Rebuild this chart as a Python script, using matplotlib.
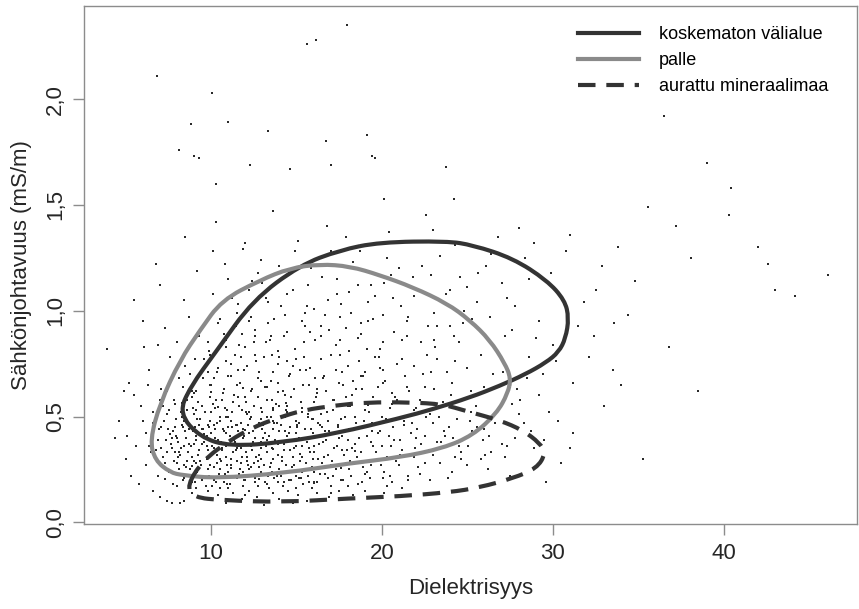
"""
Sähkönjohtavuus vs. dielektrisyys -hajontakuva kolmella maanmuokkausluokan
rajauskäyrällä (koskematon välialue, palle, aurattu mineraalimaa).
"""

import numpy as np
import matplotlib
matplotlib.use("Agg")
import matplotlib.pyplot as plt
from matplotlib.path import Path
from matplotlib.patches import PathPatch
from matplotlib.lines import Line2D
from matplotlib.ticker import FuncFormatter

plt.rcParams['font.family'] = ['Liberation Sans', 'DejaVu Sans']

# ── Mittauspisteet (dielektrisyys, sähkönjohtavuus mS/m) ─────────
pisteet_pohja = [
    (6.6, 0.15), (7.0, 0.12), (7.4, 0.10), (7.7, 0.09), (8.2, 0.09), (8.4, 0.10),
    (8.9, 0.14), (9.3, 0.12), (9.8, 0.15), (10.4, 0.13), (10.9, 0.09), (11.3, 0.14),
    (11.8, 0.11), (12.2, 0.15), (12.7, 0.12), (13.1, 0.08), (13.6, 0.14), (14.0, 0.11),
    (14.5, 0.15), (15.1, 0.13), (15.6, 0.10), (16.2, 0.14), (16.9, 0.12), (17.5, 0.15),
    (18.3, 0.13), (19.0, 0.15), (20.1, 0.14), (21.2, 0.16), (9.1, 0.16), (10.0, 0.11),
    (11.0, 0.16), (12.0, 0.13), (13.4, 0.16), (14.8, 0.09), (15.9, 0.16), (17.0, 0.14),
]

pisteet_ydin = [
    (6.9, 0.22), (7.3, 0.28), (7.8, 0.18), (8.1, 0.25), (8.4, 0.21), (8.6, 0.29),
    (8.9, 0.19), (9.2, 0.24), (9.4, 0.27), (9.7, 0.17), (9.9, 0.22), (10.2, 0.26),
    (10.3, 0.19), (10.6, 0.29), (10.8, 0.23), (11.1, 0.18), (11.2, 0.27), (11.5, 0.21),
    (11.7, 0.25), (11.9, 0.17), (12.1, 0.29), (12.3, 0.22), (12.6, 0.19), (12.8, 0.26),
    (13.0, 0.23), (13.3, 0.18), (13.5, 0.28), (13.7, 0.21), (14.0, 0.25), (14.2, 0.17),
    (14.4, 0.27), (14.7, 0.20), (14.9, 0.24), (15.2, 0.29), (15.4, 0.18), (15.7, 0.22),
    (15.9, 0.26), (16.2, 0.19), (16.5, 0.28), (16.7, 0.23), (17.0, 0.17), (17.3, 0.25),
    (17.6, 0.20), (17.9, 0.28), (18.2, 0.22), (18.6, 0.18), (18.9, 0.26), (19.3, 0.21),
    (19.7, 0.29), (20.1, 0.24), (20.6, 0.19), (21.0, 0.27), (21.5, 0.22), (22.1, 0.26),
    (22.8, 0.20), (23.4, 0.28), (24.1, 0.24), (25.0, 0.27), (26.2, 0.25), (27.5, 0.22),
    (9.0, 0.29), (10.0, 0.21), (11.0, 0.24), (12.0, 0.20), (13.1, 0.27), (14.1, 0.22),
    (15.0, 0.16), (16.0, 0.24), (17.1, 0.29), (18.0, 0.17), (19.0, 0.23), (20.3, 0.17),
    (8.0, 0.17), (10.5, 0.16), (12.5, 0.28), (13.9, 0.19),
    (5.6, 0.36), (6.2, 0.42), (6.5, 0.33), (6.9, 0.39), (7.2, 0.31), (7.5, 0.44),
    (7.7, 0.35), (8.0, 0.40), (8.2, 0.32), (8.5, 0.43), (8.7, 0.37), (8.9, 0.31),
    (9.1, 0.41), (9.3, 0.34), (9.5, 0.44), (9.6, 0.38), (9.8, 0.31), (10.0, 0.42),
    (10.2, 0.35), (10.4, 0.39), (10.5, 0.30), (10.7, 0.44), (10.9, 0.36), (11.1, 0.41),
    (11.3, 0.33), (11.4, 0.38), (11.6, 0.43), (11.8, 0.31), (12.0, 0.37), (12.2, 0.42),
    (12.4, 0.34), (12.6, 0.40), (12.8, 0.32), (13.0, 0.44), (13.2, 0.36), (13.4, 0.41),
    (13.6, 0.30), (13.8, 0.38), (14.0, 0.43), (14.3, 0.34), (14.5, 0.39), (14.8, 0.31),
    (15.0, 0.42), (15.3, 0.36), (15.5, 0.44), (15.8, 0.33), (16.0, 0.40), (16.3, 0.37),
    (16.6, 0.31), (16.9, 0.43), (17.2, 0.35), (17.5, 0.40), (17.8, 0.32), (18.1, 0.44),
    (18.4, 0.37), (18.8, 0.33), (19.1, 0.41), (19.5, 0.36), (19.9, 0.43), (20.3, 0.31),
    (20.7, 0.39), (21.2, 0.34), (21.7, 0.42), (22.3, 0.37), (23.0, 0.32), (23.7, 0.41),
    (24.5, 0.36), (25.3, 0.43), (26.4, 0.33), (27.8, 0.40), (28.9, 0.35), (9.0, 0.37),
    (10.1, 0.33), (11.0, 0.45), (12.1, 0.31), (13.3, 0.39), (14.6, 0.45), (15.6, 0.38),
    (16.5, 0.45), (18.0, 0.39), (20.0, 0.36), (8.4, 0.36), (9.9, 0.45), (11.9, 0.40),
    (12.9, 0.35), (10.6, 0.38), (7.9, 0.45),
    (4.6, 0.48), (5.9, 0.55), (6.6, 0.47), (7.0, 0.58), (7.4, 0.51), (7.9, 0.56),
    (8.3, 0.46), (8.6, 0.53), (8.9, 0.59), (9.2, 0.49), (9.5, 0.55), (9.8, 0.46),
    (10.0, 0.52), (10.3, 0.58), (10.5, 0.48), (10.8, 0.54), (11.0, 0.50), (11.3, 0.57),
    (11.5, 0.46), (11.8, 0.53), (12.0, 0.59), (12.3, 0.49), (12.5, 0.55), (12.8, 0.47),
    (13.0, 0.52), (13.3, 0.58), (13.5, 0.50), (13.8, 0.56), (14.1, 0.46), (14.4, 0.53),
    (14.7, 0.59), (15.0, 0.48), (15.3, 0.54), (15.7, 0.50), (16.0, 0.57), (16.4, 0.46),
    (16.8, 0.52), (17.2, 0.58), (17.6, 0.49), (18.0, 0.55), (18.5, 0.47), (19.0, 0.53),
    (19.5, 0.59), (20.0, 0.50), (20.6, 0.56), (21.3, 0.48), (22.0, 0.54), (22.8, 0.51),
    (23.6, 0.57), (24.4, 0.49), (25.5, 0.55), (26.7, 0.52), (28.3, 0.47), (10.1, 0.56),
    (12.1, 0.51), (14.0, 0.55), (9.0, 0.51), (11.6, 0.59), (13.7, 0.47), (15.9, 0.49),
    (17.9, 0.59), (19.3, 0.46),
]

# tiheän alueen lisämittaukset
pisteet_tiheä = [
    (8.35, 0.20), (9.05, 0.19), (9.65, 0.21), (10.15, 0.20), (10.75, 0.19), (11.35, 0.22),
    (11.95, 0.20), (12.55, 0.21), (13.15, 0.19), (13.85, 0.22), (14.55, 0.20), (15.25, 0.21),
    (16.05, 0.19), (16.85, 0.21), (17.75, 0.20), (18.85, 0.19), (20.05, 0.21), (21.55, 0.20),
    (7.55, 0.24), (8.15, 0.23), (8.75, 0.25), (9.35, 0.22), (9.85, 0.25), (10.45, 0.23),
    (11.05, 0.21), (11.65, 0.23), (12.25, 0.25), (12.95, 0.24), (13.55, 0.23), (14.25, 0.24),
    (14.95, 0.22), (15.65, 0.25), (16.35, 0.23), (17.15, 0.22), (18.05, 0.25), (19.15, 0.24),
    (20.45, 0.22), (22.25, 0.23), (23.85, 0.21),
    (7.15, 0.27), (7.85, 0.29), (8.45, 0.27), (9.15, 0.28), (9.75, 0.30), (10.35, 0.28),
    (10.95, 0.27), (11.55, 0.29), (12.15, 0.27), (12.75, 0.29), (13.45, 0.26), (14.15, 0.29),
    (14.85, 0.27), (15.55, 0.28), (16.25, 0.30), (17.05, 0.27), (18.15, 0.29), (19.35, 0.27),
    (20.85, 0.29), (22.55, 0.28), (24.65, 0.30),
    (6.75, 0.31), (7.45, 0.33), (8.05, 0.31), (8.65, 0.33), (9.25, 0.32), (9.85, 0.34),
    (10.35, 0.32), (10.85, 0.31), (11.45, 0.34), (12.05, 0.33), (12.65, 0.31), (13.25, 0.33),
    (13.95, 0.32), (14.65, 0.34), (15.35, 0.31), (16.05, 0.33), (16.85, 0.32), (17.65, 0.34),
    (18.55, 0.31), (19.65, 0.33), (21.05, 0.32), (22.75, 0.34), (24.25, 0.31), (26.05, 0.32),
    (6.35, 0.36), (7.05, 0.35), (7.65, 0.37), (8.25, 0.35), (8.85, 0.36), (9.45, 0.37),
    (10.05, 0.36), (10.65, 0.35), (11.15, 0.37), (11.75, 0.35), (12.35, 0.36), (12.95, 0.38),
    (13.55, 0.35), (14.25, 0.37), (14.95, 0.36), (15.75, 0.35), (16.55, 0.38), (17.35, 0.36),
    (18.25, 0.35), (19.35, 0.38), (20.55, 0.36), (21.95, 0.35), (23.45, 0.38), (25.05, 0.36),
    (27.05, 0.37),
    (6.55, 0.40), (7.35, 0.39), (7.95, 0.41), (8.55, 0.40), (9.15, 0.39), (9.75, 0.41),
    (10.25, 0.40), (10.85, 0.42), (11.35, 0.39), (11.95, 0.41), (12.55, 0.40), (13.15, 0.42),
    (13.75, 0.39), (14.45, 0.41), (15.15, 0.40), (15.95, 0.42), (16.75, 0.39), (17.65, 0.41),
    (18.65, 0.40), (19.75, 0.42), (21.05, 0.39), (22.55, 0.41), (24.15, 0.40), (26.25, 0.41),
    (6.95, 0.44), (7.75, 0.43), (8.35, 0.45), (8.95, 0.43), (9.55, 0.44), (10.15, 0.46),
    (10.75, 0.43), (11.25, 0.45), (11.85, 0.44), (12.45, 0.43), (13.05, 0.46), (13.65, 0.44),
    (14.35, 0.43), (15.05, 0.45), (15.85, 0.44), (16.65, 0.43), (17.45, 0.46), (18.35, 0.44),
    (19.45, 0.43), (20.65, 0.45), (22.05, 0.44), (23.65, 0.43), (25.55, 0.45),
    (7.25, 0.48), (7.95, 0.49), (8.65, 0.47), (9.35, 0.49), (9.95, 0.48), (10.55, 0.50),
    (11.15, 0.48), (11.75, 0.47), (12.35, 0.50), (12.95, 0.49), (13.65, 0.48), (14.35, 0.50),
    (15.15, 0.47), (15.95, 0.49), (16.85, 0.48), (17.85, 0.50), (18.95, 0.48), (20.25, 0.49),
    (21.75, 0.47), (23.35, 0.50), (25.15, 0.48),
    (7.55, 0.53), (8.25, 0.52), (8.95, 0.54), (9.65, 0.52), (10.25, 0.54), (10.95, 0.53),
    (11.65, 0.55), (12.25, 0.52), (12.95, 0.54), (13.65, 0.53), (14.45, 0.55), (15.35, 0.52),
    (16.25, 0.54), (17.15, 0.53), (18.15, 0.55), (19.25, 0.52), (20.45, 0.54), (21.85, 0.53),
    (23.35, 0.55),
    (7.85, 0.58), (8.55, 0.60), (9.25, 0.57), (9.95, 0.59), (10.65, 0.58), (11.35, 0.60),
    (12.05, 0.57), (12.75, 0.59), (13.55, 0.58), (14.35, 0.60), (15.25, 0.57), (16.15, 0.59),
    (17.15, 0.58), (18.25, 0.60), (19.45, 0.57), (20.75, 0.59), (22.25, 0.58), (24.05, 0.60),
    (8.15, 0.33), (8.45, 0.48), (8.75, 0.22), (9.05, 0.45), (9.35, 0.29), (9.65, 0.52),
    (9.95, 0.27), (10.25, 0.44), (10.55, 0.25), (10.85, 0.50), (11.15, 0.30), (11.45, 0.46),
    (11.75, 0.28), (12.05, 0.52), (12.35, 0.26), (12.65, 0.45), (12.95, 0.30), (13.25, 0.50),
    (13.55, 0.24), (13.85, 0.47), (14.15, 0.31), (14.45, 0.52), (14.75, 0.26), (15.05, 0.46),
    (15.35, 0.24), (15.65, 0.51), (15.95, 0.30), (16.25, 0.47), (8.05, 0.38), (8.55, 0.26),
    (9.15, 0.53), (9.45, 0.20), (9.75, 0.36), (10.05, 0.17), (10.35, 0.47), (10.65, 0.34),
    (10.95, 0.18), (11.25, 0.52), (11.55, 0.35), (11.85, 0.24), (12.15, 0.46), (12.45, 0.38),
    (12.75, 0.17), (13.05, 0.40), (13.35, 0.22), (13.65, 0.54), (13.95, 0.37), (14.25, 0.19),
    (14.55, 0.42), (14.85, 0.35), (15.15, 0.21), (15.45, 0.40), (15.75, 0.19), (16.05, 0.36),
    (16.45, 0.51), (16.95, 0.26), (17.45, 0.45), (17.95, 0.34), (18.45, 0.50), (18.95, 0.29),
    (19.45, 0.47), (19.95, 0.27), (8.90, 0.265), (9.60, 0.415), (10.40, 0.545), (11.20, 0.255),
    (12.00, 0.435), (12.80, 0.205), (13.60, 0.345), (14.40, 0.565), (15.20, 0.325),
    (16.00, 0.185), (16.80, 0.415), (17.60, 0.255), (18.40, 0.335), (19.20, 0.555),
    (7.60, 0.415), (7.30, 0.205), (8.30, 0.565), (10.00, 0.615), (11.90, 0.635), (13.90, 0.615),
    (6.2, 0.27), (6.6, 0.52), (7.1, 0.45), (7.4, 0.62), (7.7, 0.40), (8.0, 0.28),
    (8.3, 0.50), (8.7, 0.44), (6.8, 0.34), (7.2, 0.55), (7.9, 0.33), (8.6, 0.58),
    (9.3, 0.46), (9.0, 0.61), (6.0, 0.48), (5.5, 0.60), (5.1, 0.41), (6.3, 0.65),
    (7.8, 0.70), (6.9, 0.84),
]

pisteet_keski = [
    (5.2, 0.66), (6.4, 0.72), (7.1, 0.63), (7.6, 0.78), (8.1, 0.68), (8.5, 0.74),
    (8.9, 0.62), (9.3, 0.70), (9.6, 0.77), (10.0, 0.65), (10.4, 0.73), (10.7, 0.61),
    (11.0, 0.69), (11.4, 0.79), (11.7, 0.66), (12.1, 0.74), (12.4, 0.63), (12.8, 0.71),
    (13.1, 0.78), (13.5, 0.67), (13.9, 0.75), (14.2, 0.62), (14.6, 0.70), (15.0, 0.77),
    (15.4, 0.65), (15.8, 0.73), (16.2, 0.61), (16.6, 0.69), (17.0, 0.79), (17.5, 0.66),
    (18.0, 0.74), (18.5, 0.63), (19.0, 0.71), (19.6, 0.78), (20.2, 0.67), (20.9, 0.75),
    (21.6, 0.62), (22.4, 0.70), (23.2, 0.77), (24.1, 0.66), (25.0, 0.73), (26.0, 0.64),
    (27.1, 0.71), (28.5, 0.68), (30.2, 0.76), (11.2, 0.75), (13.3, 0.64), (15.2, 0.72),
    (9.8, 0.71), (12.6, 0.79), (17.3, 0.72), (19.8, 0.64),
    (8.35, 0.64), (9.15, 0.62), (9.95, 0.65), (10.75, 0.63), (11.55, 0.65), (12.35, 0.62),
    (13.15, 0.64), (13.95, 0.66), (14.85, 0.63), (15.75, 0.65), (16.75, 0.62), (17.75, 0.65),
    (18.85, 0.63), (20.05, 0.66), (21.45, 0.64), (23.05, 0.63),
    (8.75, 0.70), (9.55, 0.68), (10.35, 0.71), (11.15, 0.69), (11.95, 0.72), (12.75, 0.68),
    (13.65, 0.71), (14.55, 0.69), (15.55, 0.72), (16.55, 0.68), (17.65, 0.71), (18.75, 0.69),
    (20.05, 0.72), (21.35, 0.69), (22.85, 0.71),
    (9.05, 0.77), (9.95, 0.79), (10.85, 0.76), (11.75, 0.78), (12.65, 0.76), (13.55, 0.79),
    (14.45, 0.76), (15.45, 0.78), (16.45, 0.77), (17.55, 0.79), (18.65, 0.76), (19.85, 0.78),
    (21.15, 0.77), (22.65, 0.79), (24.25, 0.76),
    (6.1, 0.83), (7.3, 0.92), (8.0, 0.85), (8.7, 0.97), (9.3, 0.88), (9.9, 0.81),
    (10.4, 0.94), (10.9, 0.86), (11.5, 0.99), (12.0, 0.83), (12.6, 0.91), (13.2, 0.85),
    (13.7, 0.96), (14.3, 0.88), (14.9, 0.82), (15.5, 0.93), (16.1, 0.86), (16.7, 0.98),
    (17.3, 0.84), (17.9, 0.92), (18.6, 0.87), (19.2, 0.95), (19.9, 0.82), (20.7, 0.90),
    (21.5, 0.97), (22.3, 0.85), (23.2, 0.93), (24.2, 0.88), (25.3, 0.96), (26.5, 0.84),
    (27.6, 0.91), (29.0, 0.87), (31.5, 0.93), (13.9, 0.81), (11.8, 0.89), (18.2, 0.99),
    (15.8, 0.90),
    (9.85, 0.85), (10.75, 0.89), (11.65, 0.84), (12.55, 0.88), (13.45, 0.86), (14.45, 0.90),
    (15.45, 0.85), (16.45, 0.88), (17.55, 0.86), (18.75, 0.89), (20.05, 0.85), (21.45, 0.88),
    (23.05, 0.86),
    (10.55, 0.96), (11.45, 0.93), (12.35, 0.97), (13.35, 0.94), (14.35, 0.98), (15.35, 0.95),
    (16.45, 0.93), (17.55, 0.97), (18.75, 0.94), (20.05, 0.98), (21.45, 0.95), (23.05, 0.99),
    (24.75, 0.94),
    (7.0, 1.12), (8.4, 1.05), (9.2, 1.19), (10.1, 1.08), (10.8, 1.22), (11.6, 1.03),
    (12.4, 1.14), (13.2, 1.06), (14.0, 1.21), (14.8, 1.10), (15.6, 1.02), (16.5, 1.16),
    (17.4, 1.08), (18.3, 1.23), (19.2, 1.04), (20.1, 1.13), (21.0, 1.20), (21.9, 1.07),
    (22.9, 1.17), (23.9, 1.02), (25.0, 1.11), (26.1, 1.21), (27.3, 1.06), (28.6, 1.15),
    (30.3, 1.09), (12.9, 1.24), (16.0, 1.01),
    (11.25, 1.06), (12.25, 1.10), (13.35, 1.04), (14.45, 1.08), (15.65, 1.12), (16.85, 1.05),
    (18.05, 1.09), (19.35, 1.12), (20.65, 1.06), (22.15, 1.10), (23.75, 1.08), (25.55, 1.04),
    (12.75, 1.18), (14.25, 1.16), (15.85, 1.20), (17.35, 1.15), (18.95, 1.19), (20.55, 1.17),
    (22.35, 1.21), (24.55, 1.16),
    (10.2, 0.68), (10.9, 0.83), (11.6, 0.72), (12.2, 0.95), (12.9, 0.67), (13.5, 0.88),
    (14.1, 1.02), (14.8, 0.74), (15.5, 0.99), (16.1, 0.68), (16.9, 0.91), (17.6, 1.03),
    (18.1, 0.81), (18.9, 0.69), (19.6, 1.07), (13.0, 1.13), (11.0, 1.15), (9.7, 0.95),
    (10.1, 1.28), (12.0, 1.32), (14.9, 1.28), (17.9, 1.35), (16.2, 0.63), (14.0, 0.78),
    (12.5, 0.85),
    (8.5, 1.35), (10.3, 1.42), (11.9, 1.29), (13.6, 1.47), (15.1, 1.33), (16.8, 1.40),
    (18.7, 1.28), (20.4, 1.37), (22.6, 1.45), (24.3, 1.31), (26.4, 1.27), (28.0, 1.39),
    (31.0, 1.36), (33.8, 1.30), (35.6, 1.49), (37.2, 1.40),
]

# kapeikon oikean puolen mittaukset
pisteet_oikea = [
    (20.4, 0.41), (21.3, 0.46), (21.9, 0.31), (22.6, 0.50), (23.2, 0.38), (23.9, 0.45),
    (24.6, 0.33), (25.2, 0.52), (25.9, 0.39), (26.6, 0.47), (27.3, 0.36), (28.0, 0.51),
    (28.7, 0.43), (29.5, 0.39), (30.3, 0.48), (31.0, 0.35), (20.9, 0.58), (22.0, 0.40),
    (23.0, 0.47), (24.0, 0.56), (25.8, 0.30), (27.6, 0.56), (29.2, 0.60),
    (18.3, 0.67), (19.1, 0.82), (19.9, 0.73), (20.6, 0.61), (21.2, 0.86), (21.9, 0.74),
    (22.5, 0.64), (23.1, 0.83), (23.8, 0.71), (24.5, 0.85), (25.2, 0.62), (25.8, 0.79),
    (26.5, 0.70), (27.2, 0.88), (27.9, 0.63), (28.6, 0.78), (29.4, 0.70), (30.0, 0.84),
    (31.2, 0.66), (32.4, 0.88), (33.5, 0.72), (24.0, 0.93),
    (17.0, 1.28), (18.6, 1.12), (19.5, 0.96), (20.3, 1.25), (21.1, 1.02), (21.8, 1.16),
    (22.7, 0.93), (23.4, 1.26), (24.0, 1.10), (24.8, 1.00), (25.6, 1.18), (26.3, 0.97),
    (27.0, 1.13), (27.8, 1.02), (28.4, 1.25), (29.2, 0.95), (29.9, 1.18), (30.8, 1.28),
    (31.8, 1.04), (32.9, 1.21), (33.6, 0.94), (34.8, 1.14), (28.9, 1.32), (26.8, 1.35),
    (23.0, 1.38),
]

pisteet_harva = [
    (6.84, 2.11), (10.06, 2.03), (8.83, 1.88), (10.99, 1.89), (13.33, 1.85),
    (8.13, 1.76), (9.01, 1.73), (9.30, 1.72), (10.29, 1.60), (12.28, 1.69),
    (14.62, 1.67), (15.61, 2.26), (16.14, 2.28), (17.95, 2.35), (16.73, 1.80),
    (17.02, 1.69), (19.12, 1.83), (19.42, 1.73), (19.59, 1.72), (23.74, 1.68),
    (20.12, 1.53), (24.21, 1.53),
    (32.5, 1.10), (34.4, 0.98), (36.8, 0.83), (38.1, 1.25), (39.0, 1.70), (40.3, 1.45),
    (42.0, 1.30), (42.6, 1.22), (43.0, 1.10), (44.2, 1.07), (46.1, 1.17), (38.5, 0.62),
    (35.3, 0.30), (33.0, 0.55), (31.2, 0.42), (30.5, 0.28), (29.6, 0.19), (32.1, 0.78),
    (34.0, 0.65), (36.5, 1.92), (40.4, 1.58), (27.2, 0.31), (28.1, 0.58), (26.0, 0.44),
    (29.8, 0.52),
    (3.9, 0.82), (4.4, 0.40), (5.0, 0.30), (5.3, 0.22), (5.8, 0.18), (4.9, 0.62),
    (6.0, 0.95), (6.8, 1.22), (5.5, 1.05),
]

# ── Luokkien rajauskäyrät (suljetut) ─────────────────────────────
koskematon = [
    (19.88, 1.324), (23.80, 1.329), (25.32, 1.310), (27.66, 1.248), (29.65, 1.144),
    (30.70, 1.050), (30.94, 0.965), (30.75, 0.870), (30.35, 0.805), (29.60, 0.755),
    (28.40, 0.700), (26.90, 0.645), (25.15, 0.590), (23.00, 0.535), (21.05, 0.492),
    (17.37, 0.421), (14.21, 0.378), (11.11, 0.359), (9.36, 0.402), (8.13, 0.515),
    (8.77, 0.638), (10.35, 0.813), (12.46, 1.050), (15.20, 1.215), (17.54, 1.286),
]

palle = [
    (27.55, 0.680), (27.19, 0.752), (26.32, 0.861), (25.15, 0.955), (23.80, 1.035),
    (21.81, 1.111), (19.88, 1.168), (18.13, 1.210), (16.37, 1.220), (14.62, 1.201),
    (12.87, 1.144), (10.64, 1.050), (9.36, 0.908), (8.19, 0.766), (7.02, 0.563),
    (6.43, 0.388), (6.73, 0.293), (7.60, 0.236), (8.36, 0.222), (10.35, 0.208),
    (14.21, 0.232), (18.13, 0.279), (21.05, 0.307), (23.57, 0.350), (25.32, 0.411),
    (26.72, 0.515), (27.37, 0.610),
]

aurattu = [
    (8.60, 0.175), (8.95, 0.118), (10.70, 0.104), (14.21, 0.095), (18.13, 0.113),
    (21.05, 0.123), (23.98, 0.142), (25.73, 0.165), (27.66, 0.208), (29.06, 0.255),
    (29.59, 0.326), (29.24, 0.374), (28.25, 0.435), (26.90, 0.482), (24.97, 0.525),
    (23.57, 0.558), (21.64, 0.567), (19.12, 0.567), (17.37, 0.553), (15.38, 0.530),
    (13.86, 0.492), (12.46, 0.449), (11.11, 0.388), (9.53, 0.293),
]

luokat = ['koskematon välialue', 'palle', 'aurattu mineraalimaa']


def suljettu_polku(pisteet):
    """Pehmeä suljettu polku: kvadraattiset Bezier-kaaret pisteiden välikohtien kautta."""
    p = np.asarray(pisteet, dtype=float)
    seuraava = np.roll(p, -1, axis=0)
    keski = (p + seuraava) / 2
    verts = [keski[-1]]
    codes = [Path.MOVETO]
    for i in range(len(p)):
        verts += [p[i], keski[i]]
        codes += [Path.CURVE3, Path.CURVE3]
    return Path(verts, codes)


fig = plt.figure(figsize=(8.59, 6.09), dpi=100)
ax = fig.add_axes([84 / 859, 1 - 524 / 609, 773 / 859, 518 / 609])

# ── Hajontapisteet ───────────────────────────────────────────────
kaikki = np.array(pisteet_pohja + pisteet_ydin + pisteet_tiheä
                  + pisteet_keski + pisteet_oikea + pisteet_harva)
ax.scatter(kaikki[:, 0], kaikki[:, 1], s=3.0, color='#2a2a2a', linewidths=0,
           marker='s', zorder=2)

# ── Rajauskäyrät ─────────────────────────────────────────────────
tyylit = [
    dict(color='#333333', linestyle='-'),
    dict(color='#8a8a8a', linestyle='-'),
    dict(color='#333333', linestyle=(0, (4.2, 2.6))),
]
kahvat = []
for data, tyyli, nimi in zip([koskematon, palle, aurattu], tyylit, luokat):
    patch = PathPatch(suljettu_polku(data), fill=False, lw=3.0,
                      edgecolor=tyyli['color'], linestyle=tyyli['linestyle'],
                      capstyle='butt', joinstyle='round', zorder=3)
    ax.add_patch(patch)
    kahvat.append(Line2D([], [], color=tyyli['color'], lw=3.0,
                         linestyle=tyyli['linestyle'], label=nimi))

ax.legend(handles=kahvat, loc='upper left', frameon=False, fontsize=13,
          bbox_to_anchor=(578 / 859, 1 - 26 / 609), bbox_transform=fig.transFigure,
          borderpad=0, borderaxespad=0, handlelength=3.4, handletextpad=1.1,
          labelspacing=0.5)

# ── Akselit ──────────────────────────────────────────────────────
ax.set_xlim(2.57, 47.8)
ax.set_ylim(-0.008, 2.44)
ax.set_xticks([10, 20, 30, 40])
ax.set_yticks([0, 0.5, 1.0, 1.5, 2.0])
ax.yaxis.set_major_formatter(FuncFormatter(lambda v, _: f'{v:.1f}'.replace('.', ',')))
for lbl in ax.get_yticklabels():
    lbl.set_rotation(90)
    lbl.set_va('center')

for spine in ax.spines.values():
    spine.set_color('#8c8c8c')
    spine.set_linewidth(1.0)
ax.tick_params(axis='both', colors='#8c8c8c', labelcolor='#262626',
               labelsize=16, length=8, width=1.0, direction='out')
ax.tick_params(axis='x', pad=6)
ax.tick_params(axis='y', pad=5)

ax.set_xlabel('Dielektrisyys', fontsize=16, color='#262626', labelpad=10)
ax.set_ylabel('Sähkönjohtavuus (mS/m)', fontsize=16, color='#262626', labelpad=9)

fig.savefig('out.png', dpi=100)
